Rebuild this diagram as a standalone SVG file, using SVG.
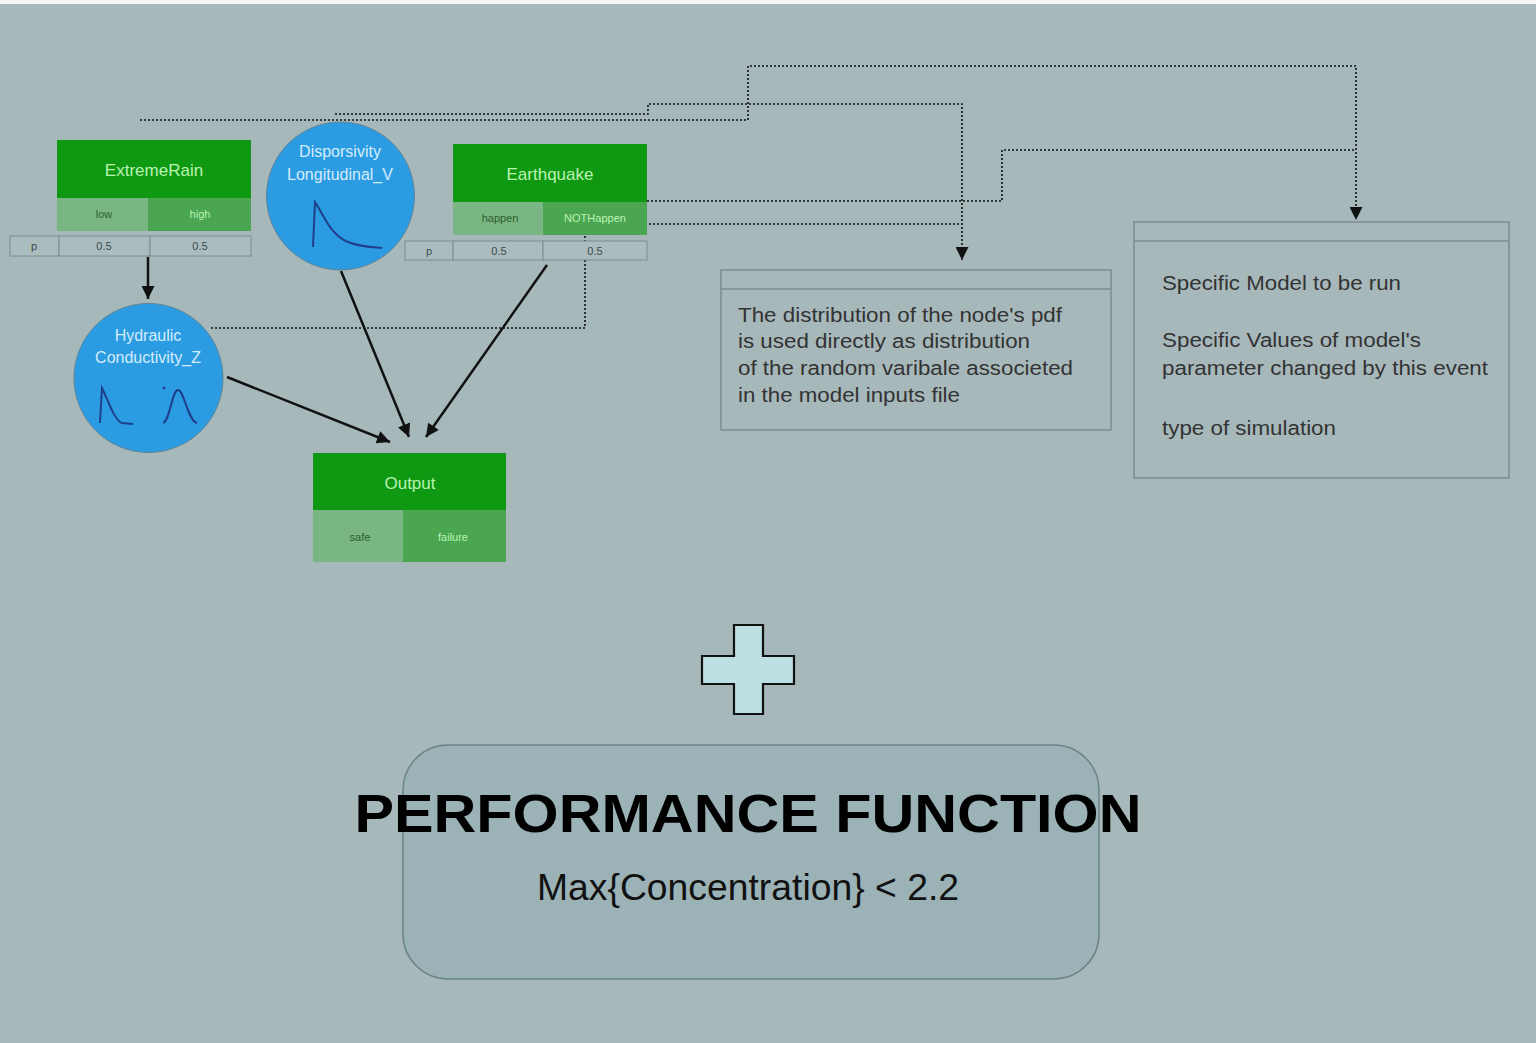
<svg xmlns="http://www.w3.org/2000/svg" width="1536" height="1043" viewBox="0 0 1536 1043">
<defs>
<style>
.hdr{fill:#0f9812}
.lo{fill:#7ab683}
.hi{fill:#4aa651}
.ht{font-family:"Liberation Sans",Arial,sans-serif;font-size:17px;fill:#b9f3b0;text-anchor:middle}
.st{font-family:"Liberation Sans",Arial,sans-serif;font-size:11px;text-anchor:middle}
.dk{fill:#2b5f2b}
.lt{fill:#bdf2b5}
.cell{fill:#abbcbf;stroke:#7c8c8f;stroke-width:1}
.tt{font-family:"Liberation Sans",Arial,sans-serif;font-size:11px;fill:#3c4a4c;text-anchor:middle}
.circ{fill:#2b9ce2;stroke:#5f8496;stroke-width:1}
.ct{font-family:"Liberation Sans",Arial,sans-serif;font-size:16px;fill:#d4ecfb;text-anchor:middle}
.pdf{fill:none;stroke:#1f3f8a;stroke-width:2}
.solid{fill:none;stroke:#111;stroke-width:2.5}
.dot{fill:none;stroke:#111;stroke-width:1.6;stroke-dasharray:2 2}
.box{fill:none;stroke:#7d8c8f;stroke-width:1.5}
.bt{font-family:"Liberation Sans",Arial,sans-serif;font-size:20px;fill:#333}
</style>
<marker id="ah" viewBox="0 0 10 10" refX="10" refY="5" markerWidth="15" markerHeight="13" markerUnits="userSpaceOnUse" orient="auto">
<path d="M0,0 L10,5 L0,10 z" fill="#111"/>
</marker>
<marker id="dh" viewBox="0 0 10 10" refX="10" refY="5" markerWidth="15" markerHeight="13" markerUnits="userSpaceOnUse" orient="auto">
<path d="M0,0 L10,5 L0,10 z" fill="#111"/>
</marker>
</defs>
<rect x="0" y="0" width="1536" height="1043" fill="#a7b8bb"/>
<rect x="0" y="0" width="1536" height="4" fill="#f4f6f6"/>

<g id="connectors">
<path class="dot" d="M140,120 H748 V66 H1356 V220" marker-end="url(#dh)"/>
<path class="dot" d="M335,114 H648 V104 H962 V260" marker-end="url(#dh)"/>
<path class="dot" d="M647,201 H1002 V150 H1356"/>
<path class="dot" d="M585,224 H962"/>
<path class="dot" d="M585,224 V328 H210"/>
<line class="solid" x1="148" y1="257" x2="148" y2="299" marker-end="url(#ah)"/>
<line class="solid" x1="227" y1="377" x2="390" y2="442" marker-end="url(#ah)"/>
<line class="solid" x1="341" y1="271" x2="409" y2="437" marker-end="url(#ah)"/>
<line class="solid" x1="547" y1="265" x2="426" y2="437" marker-end="url(#ah)"/>
</g>

<g id="node-extremerain">
<rect class="hdr" x="57" y="140" width="194" height="58"/>
<text class="ht" x="154" y="176">ExtremeRain</text>
<rect class="lo" x="57" y="198" width="91" height="33"/>
<rect class="hi" x="148" y="198" width="103" height="33"/>
<text class="st dk" x="104" y="218">low</text>
<text class="st lt" x="200" y="218">high</text>
<rect class="cell" x="10" y="236" width="49" height="20"/>
<rect class="cell" x="59" y="236" width="91" height="20"/>
<rect class="cell" x="150" y="236" width="101" height="20"/>
<text class="tt" x="34" y="250">p</text>
<text class="tt" x="104" y="250">0.5</text>
<text class="tt" x="200" y="250">0.5</text>
</g>

<g id="node-dispersivity">
<circle class="circ" cx="340.5" cy="196" r="74"/>
<text class="ct" x="340" y="157">Disporsivity</text>
<text class="ct" x="340" y="180">Longitudinal_V</text>
<path class="pdf" d="M313,247 L315,202 C322,212 330,235 348,242 C360,247 372,247 382,248"/>
</g>

<g id="node-earthquake">
<rect class="hdr" x="453" y="144" width="194" height="58"/>
<text class="ht" x="550" y="180">Earthquake</text>
<rect class="lo" x="453" y="202" width="90" height="33"/>
<rect class="hi" x="543" y="202" width="104" height="33"/>
<text class="st dk" x="500" y="222">happen</text>
<text class="st lt" x="595" y="222">NOTHappen</text>
<rect class="cell" x="405" y="241" width="48" height="19"/>
<rect class="cell" x="453" y="241" width="90" height="19"/>
<rect class="cell" x="543" y="241" width="104" height="19"/>
<text class="tt" x="429" y="255">p</text>
<text class="tt" x="499" y="255">0.5</text>
<text class="tt" x="595" y="255">0.5</text>
</g>

<g id="node-hydraulic">
<circle class="circ" cx="148.5" cy="378" r="74.5"/>
<text class="ct" x="148" y="341">Hydraulic</text>
<text class="ct" x="148" y="363">Conductivity_Z</text>
<path class="pdf" d="M100,423 L102,388 C108,400 114,420 122,423 L133,424"/>
<path class="pdf" d="M163,423 C170,421 172,390 178,390 C184,390 188,421 197,423"/>
<circle cx="164" cy="388" r="1.5" fill="#1f3f8a"/>
</g>

<g id="node-output">
<rect class="hdr" x="313" y="453" width="193" height="57"/>
<text class="ht" x="410" y="489">Output</text>
<rect class="lo" x="313" y="510" width="90" height="52"/>
<rect class="hi" x="403" y="510" width="103" height="52"/>
<text class="st dk" x="360" y="541">safe</text>
<text class="st lt" x="453" y="541">failure</text>
</g>

<g id="note-distribution">
<rect class="box" x="721" y="270" width="390" height="160"/>
<line class="box" x1="721" y1="289" x2="1111" y2="289"/>
<text class="bt" x="738" y="322" textLength="324" lengthAdjust="spacingAndGlyphs">The distribution of the node's pdf</text>
<text class="bt" x="738" y="348" textLength="292" lengthAdjust="spacingAndGlyphs">is used directly as distribution</text>
<text class="bt" x="738" y="375" textLength="335" lengthAdjust="spacingAndGlyphs">of the random varibale associeted</text>
<text class="bt" x="738" y="402" textLength="222" lengthAdjust="spacingAndGlyphs">in the model inputs file</text>
</g>

<g id="note-model">
<rect class="box" x="1134" y="222" width="375" height="256"/>
<line class="box" x1="1134" y1="241" x2="1509" y2="241"/>
<text class="bt" x="1162" y="290" textLength="239" lengthAdjust="spacingAndGlyphs">Specific Model to be run</text>
<text class="bt" x="1162" y="347" textLength="259" lengthAdjust="spacingAndGlyphs">Specific Values of model's</text>
<text class="bt" x="1162" y="375" textLength="326" lengthAdjust="spacingAndGlyphs">parameter changed by this event</text>
<text class="bt" x="1162" y="435" textLength="174" lengthAdjust="spacingAndGlyphs">type of simulation</text>
</g>

<g id="plus">
<path d="M734,625 H763 V656 H794 V684 H763 V714 H734 V684 H702 V656 H734 Z" fill="#bde0e3" stroke="#111" stroke-width="2.2"/>
</g>

<g id="performance-function">
<rect x="403" y="745" width="696" height="234" rx="45" ry="45" fill="#9bb3b7" stroke="#6d8386" stroke-width="1.5"/>
<text x="748" y="832" font-family="'Liberation Sans',Arial,sans-serif" font-size="54" font-weight="bold" fill="#000" text-anchor="middle" textLength="787" lengthAdjust="spacingAndGlyphs">PERFORMANCE FUNCTION</text>
<text x="748" y="900" font-family="'Liberation Sans',Arial,sans-serif" font-size="36" fill="#111" text-anchor="middle" textLength="422" lengthAdjust="spacingAndGlyphs">Max{Concentration} &lt; 2.2</text>
</g>
</svg>
